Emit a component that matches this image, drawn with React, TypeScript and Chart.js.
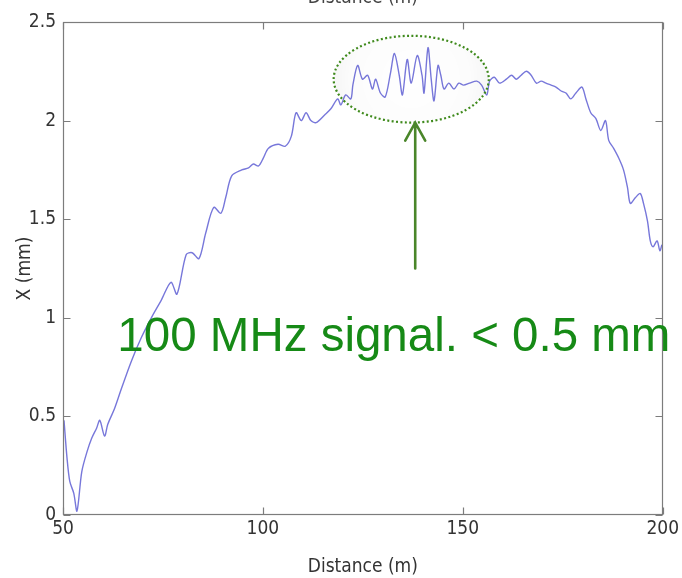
import React, { useEffect, useRef } from 'react';
import { Chart, registerables } from 'chart.js';

Chart.register(...registerables);

// Distance (m)
const distance = [
  50.25, 51.0, 51.7, 52.7, 53.5, 54.7, 56.0, 57.2, 58.4, 59.2, 60.4, 61.2, 62.9, 64.6, 67.1, 69.6, 72.1, 74.6,
  77.0, 78.5, 80.8, 82.3, 84.0, 85.7, 87.7, 89.5, 90.7, 92.2, 94.7, 96.4, 97.6, 98.9, 100.1, 101.4,
  103.8, 105.6, 107.1, 108.3, 109.6, 110.8, 112.0, 113.3, 115.5, 117.0, 118.7, 119.5, 120.7, 122.0,
  122.5, 123.7, 124.9, 126.2, 127.4, 128.2, 129.4, 130.6, 131.9, 132.9, 134.1, 134.9, 136.1, 137.1,
  138.6, 139.8, 140.3, 141.3, 142.1, 142.8, 143.8, 144.5, 145.3, 146.5, 147.8, 149.0, 150.2,
  151.7, 153.5, 154.7, 156.0, 156.7, 157.9, 159.2, 160.9, 162.2, 163.4, 164.6, 165.9, 167.1, 168.4,
  169.6, 170.8, 172.1, 173.3, 174.6, 175.8, 177.0, 178.3, 179.8, 180.8, 182.0, 183.3, 184.5, 185.7,
  186.5, 187.7, 189.0, 190.2, 191.2, 191.9, 193.2, 194.4, 195.2, 196.2, 196.9, 197.6, 198.6, 199.3, 199.8,
];

// X (mm)
const xMm = [
  0.48, 0.29, 0.17, 0.11, 0.02, 0.22, 0.32, 0.39, 0.44, 0.48, 0.40, 0.46, 0.54, 0.64, 0.78, 0.90, 1.00, 1.09,
  1.18, 1.12, 1.32, 1.33, 1.30, 1.43, 1.56, 1.53, 1.61, 1.72, 1.75, 1.76, 1.78, 1.77, 1.81, 1.86,
  1.88, 1.87, 1.92, 2.04, 2.00, 2.04, 2.00, 1.99, 2.03, 2.06, 2.11, 2.08, 2.13, 2.11,
  2.18, 2.28, 2.21, 2.23, 2.16, 2.21, 2.14, 2.12, 2.24, 2.34, 2.23, 2.13, 2.31, 2.19,
  2.33, 2.23, 2.14, 2.37, 2.21, 2.10, 2.28, 2.23, 2.16, 2.19, 2.16, 2.19, 2.18,
  2.19, 2.20, 2.18, 2.13, 2.20, 2.22, 2.19, 2.21, 2.23, 2.21, 2.23, 2.25, 2.23, 2.19,
  2.20, 2.19, 2.18, 2.17, 2.15, 2.14, 2.11, 2.14, 2.17, 2.11, 2.04, 2.01, 1.95, 2.00,
  1.90, 1.86, 1.81, 1.75, 1.66, 1.58, 1.61, 1.63, 1.58, 1.49, 1.39, 1.36, 1.39, 1.34, 1.37,
];

const xTickValues = [50, 100, 150, 200];
const yTickValues = [0, 0.5, 1, 1.5, 2, 2.5];
const xTitle = 'Distance (m)';
const yTitle = 'X (mm)';
const topTitle = 'Distance (m)';
const noteText = '100 MHz signal. < 0.5 mm';

// annotation anchors in data units
const ellipseCenter = [137.1, 2.21];
const ellipseRadius = [19.4, 0.22];
const arrowX = 138.1;
const arrowFrom = 1.25;
const arrowTo = 1.99;
const noteAnchor = [63.6, 0.83];

const FONT = '"Liberation Sans Narrow", "DejaVu Sans Condensed", "Liberation Sans", sans-serif';

const framePlugin = {
  id: 'frame',
  afterDatasetsDraw(chart: any) {
    const { ctx, chartArea, scales } = chart;
    const { left, right, top, bottom } = chartArea;
    const x = scales.x;
    const y = scales.y;
    ctx.save();
    ctx.strokeStyle = '#7c7c7c';
    ctx.lineWidth = 1.2;
    const L = Math.round(left) + 0.5;
    const R = Math.round(right) - 0.5;
    const T = Math.round(top) + 0.5;
    const B = Math.round(bottom) - 0.5;
    ctx.strokeRect(L, T, R - L, B - T);
    const tl = 7;
    ctx.beginPath();
    xTickValues.forEach((v) => {
      const px = Math.round(x.getPixelForValue(v)) + 0.5;
      ctx.moveTo(px, B);
      ctx.lineTo(px, B - tl);
      ctx.moveTo(px, T);
      ctx.lineTo(px, T + tl);
    });
    yTickValues.forEach((v) => {
      const py = Math.round(y.getPixelForValue(v)) + 0.5;
      ctx.moveTo(L, py);
      ctx.lineTo(L + tl, py);
      ctx.moveTo(R, py);
      ctx.lineTo(R - tl, py);
    });
    ctx.stroke();
    ctx.restore();
  },
  afterDraw(chart: any) {
    const { ctx, chartArea, scales } = chart;
    const x = scales.x;
    const y = scales.y;
    ctx.save();
    // cut-off title at the very top
    ctx.fillStyle = '#444';
    ctx.font = `19px ${FONT}`;
    ctx.textAlign = 'center';
    ctx.textBaseline = 'alphabetic';
    ctx.fillText(topTitle, (chartArea.left + chartArea.right) / 2, 3);

    // ellipse
    const cx = x.getPixelForValue(ellipseCenter[0]);
    const cy = y.getPixelForValue(ellipseCenter[1]);
    const rx = x.getPixelForValue(ellipseCenter[0] + ellipseRadius[0]) - cx;
    const ry = cy - y.getPixelForValue(ellipseCenter[1] + ellipseRadius[1]);
    const grad = ctx.createRadialGradient(cx, cy, 0, cx, cy, rx);
    grad.addColorStop(0, 'rgba(0,0,0,0.0)');
    grad.addColorStop(0.75, 'rgba(0,0,0,0.01)');
    grad.addColorStop(1, 'rgba(0,0,0,0.035)');
    ctx.beginPath();
    ctx.ellipse(cx, cy, rx, ry, 0, 0, Math.PI * 2);
    ctx.fillStyle = grad;
    ctx.fill();
    ctx.setLineDash([2, 2.4]);
    ctx.lineWidth = 2.2;
    ctx.strokeStyle = '#3f8a1c';
    ctx.stroke();
    ctx.setLineDash([]);

    // arrow
    const ax = x.getPixelForValue(arrowX);
    const ay0 = y.getPixelForValue(arrowFrom);
    const ay1 = y.getPixelForValue(arrowTo);
    ctx.strokeStyle = '#4a862a';
    ctx.lineWidth = 2.6;
    ctx.lineCap = 'round';
    ctx.beginPath();
    ctx.moveTo(ax, ay0);
    ctx.lineTo(ax, ay1 + 1);
    ctx.moveTo(ax - 10, ay1 + 18);
    ctx.lineTo(ax, ay1);
    ctx.lineTo(ax + 10, ay1 + 18);
    ctx.stroke();

    // note text
    ctx.fillStyle = '#168a16';
    ctx.font = '47.5px "Liberation Sans", Arial, sans-serif';
    ctx.textAlign = 'left';
    ctx.textBaseline = 'alphabetic';
    ctx.fillText(noteText, x.getPixelForValue(noteAnchor[0]), y.getPixelForValue(noteAnchor[1]));
    ctx.restore();
  },
};

export default function App() {
  const canvasRef = useRef<HTMLCanvasElement | null>(null);

  useEffect(() => {
    const canvas = canvasRef.current;
    if (!canvas) return;
    const points = distance.map((d, i) => ({ x: d, y: xMm[i] }));
    const chart = new Chart(canvas, {
      type: 'line',
      data: {
        datasets: [
          {
            data: points,
            borderColor: 'rgba(104, 104, 214, 0.9)',
            borderWidth: 1.4,
            pointRadius: 0,
            tension: 0.3,
            fill: false,
          },
        ],
      },
      options: {
        responsive: false,
        animation: false,
        layout: { padding: { left: 0, right: 15, top: 22, bottom: 0 } },
        plugins: { legend: { display: false }, tooltip: { enabled: false }, title: { display: false } },
        scales: {
          x: {
            type: 'linear',
            min: 50,
            max: 200,
            afterBuildTicks: (s: any) => {
              s.ticks = xTickValues.map((v) => ({ value: v }));
            },
            afterFit: (s: any) => {
              s.height = 63;
            },
            grid: { display: false, drawTicks: false },
            border: { display: false },
            ticks: {
              padding: 3,
              color: '#333',
              font: { family: FONT, size: 19 },
              maxRotation: 0,
              callback: (v: any) => String(v),
            },
            title: {
              display: true,
              text: xTitle,
              color: '#333',
              font: { family: FONT, size: 19 },
              padding: { top: 0, bottom: 0 },
            },
          },
          y: {
            type: 'linear',
            min: 0,
            max: 2.5,
            afterBuildTicks: (s: any) => {
              s.ticks = yTickValues.map((v) => ({ value: v }));
            },
            afterFit: (s: any) => {
              s.width = 63;
            },
            grid: { display: false, drawTicks: false },
            border: { display: false },
            ticks: {
              padding: 7,
              color: '#333',
              font: { family: FONT, size: 19 },
              callback: (v: any) => String(v),
            },
            title: {
              display: true,
              text: yTitle,
              color: '#333',
              font: { family: FONT, size: 19 },
              padding: { top: 14, bottom: 0 },
            },
          },
        },
      },
      plugins: [framePlugin],
    });
    return () => chart.destroy();
  }, []);

  return (
    <div style={{ position: 'fixed', left: 0, top: 0, width: 682, height: 578, background: '#fff' }}>
      <canvas ref={canvasRef} width={682} height={578} style={{ display: 'block', width: 682, height: 578 }} />
    </div>
  );
}
